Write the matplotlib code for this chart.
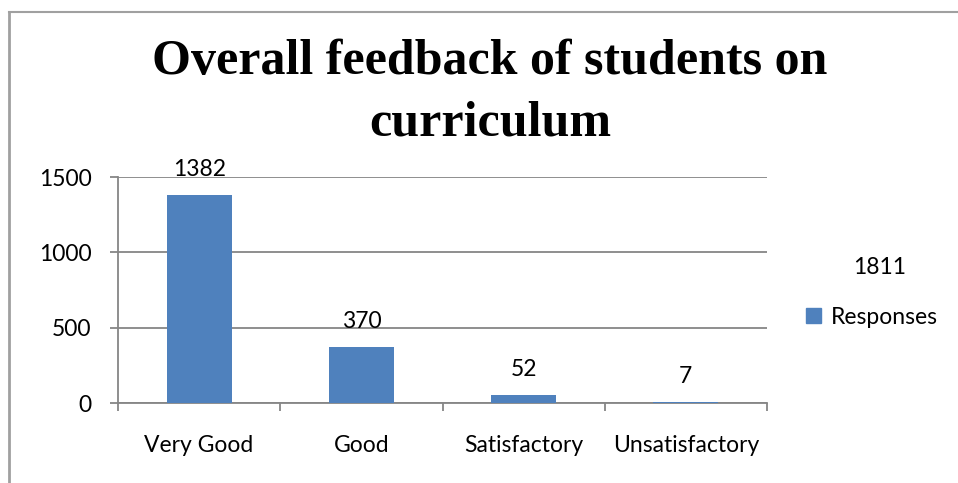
import matplotlib.pyplot as plt
from matplotlib.patches import Patch

categories = ["Very Good", "Good", "Satisfactory", "Unsatisfactory"]
responses = [1382, 370, 52, 7]
total = 1811
y_ticks = [0, 500, 1000, 1500]

bar_color = "#4F81BD"
grid_color = "#868686"
label_font = ["Lato", "DejaVu Sans"]
fs = 16.5

fig = plt.figure(figsize=(9.58, 4.83), dpi=100)
ax = fig.add_axes([118 / 958, 1 - 403 / 483, (767 - 118) / 958, (403 - 177) / 483])

x = list(range(len(categories)))
ax.bar(x, responses, width=0.4, color=bar_color, zorder=3)
for xi, v in zip(x, responses):
    ax.annotate(str(v), (xi, v), xytext=(0, 11), textcoords="offset points",
                ha="center", va="bottom", fontsize=fs, family=label_font)

ax.set_xlim(-0.5, len(categories) - 0.5)
ax.set_ylim(0, 1500)
ax.set_yticks(y_ticks)
ax.set_yticklabels([str(t) for t in y_ticks], fontsize=fs, family=label_font)
ax.yaxis.grid(True, color=grid_color, linewidth=1.3, zorder=0)

# category labels centred, ticks at category boundaries
ax.set_xticks(x)
ax.set_xticklabels(categories, fontsize=fs, family=label_font)
ax.tick_params(axis="x", length=0, pad=23)
ax.set_xticks([i - 0.5 for i in range(len(categories) + 1)], minor=True)
ax.tick_params(axis="x", which="minor", length=6, color=grid_color, width=1.3)
ax.tick_params(axis="y", length=6, color=grid_color, width=1.3, pad=13)

for side in ["top", "right"]:
    ax.spines[side].set_visible(False)
for side in ["left", "bottom"]:
    ax.spines[side].set_color(grid_color)
    ax.spines[side].set_linewidth(1.3)

# va="baseline" on multi-line text pins the last line
fig.text(490 / 958, 1 - 135 / 483, "Overall feedback of students on\ncurriculum", ha="center", va="baseline",
         fontsize=36, fontweight="bold", family="Liberation Serif", linespacing=1.42)

fig.text(880 / 958, 1 - 267 / 483, str(total), ha="center", va="center", fontsize=fs, family=label_font)
fig.legend(handles=[Patch(color=bar_color, label="Responses")], loc="center left",
           bbox_to_anchor=(806 / 958, 1 - 317 / 483), frameon=False, prop={"family": label_font, "size": fs},
           handlelength=0.65, handleheight=0.65, handletextpad=0.45, borderpad=0, borderaxespad=0)

# outer chart frame, only top and left visible in the crop
fig.add_artist(plt.Line2D([9 / 958, 9 / 958], [0, 1 - 12 / 483], color="#A0A0A0", linewidth=2, transform=fig.transFigure))
fig.add_artist(plt.Line2D([9 / 958, 1], [1 - 12 / 483, 1 - 12 / 483], color="#A0A0A0", linewidth=1.5, transform=fig.transFigure))

fig.savefig("out.png", dpi=100)
